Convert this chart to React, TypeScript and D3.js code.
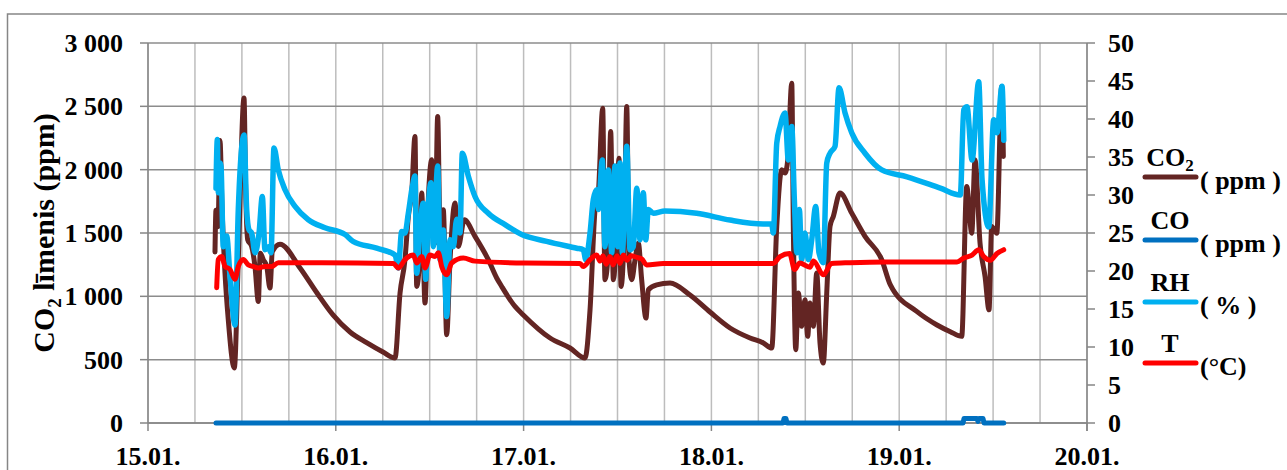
import React from "react";
import * as d3 from "d3";

// Time is measured in hours since 15.01. 00:00
const dayLabels = ["15.01.", "16.01.", "17.01.", "18.01.", "19.01.", "20.01."];
const co2Ticks = [0, 500, 1000, 1500, 2000, 2500, 3000];
const co2TickLabels = ["0", "500", "1 000", "1 500", "2 000", "2 500", "3 000"];
const rightTicks = [0, 5, 10, 15, 20, 25, 30, 35, 40, 45, 50];

// CO2 concentration, ppm (left axis)
const co2Series: [number, number][] = [
  [8.56, 1350], [8.69, 1680], [8.95, 1550], [9.2, 2230], [9.46, 1700], [9.84, 1183],
  [10.26, 815], [11.03, 434], [11.54, 1290], [12.27, 2565], [12.49, 1815], [12.74, 1447],
  [13.25, 1394], [13.67, 1236], [14.1, 960], [14.35, 1341], [14.74, 1289], [15.17, 1236],
  [15.59, 1065], [15.89, 1354], [16.87, 1412], [19.43, 1224], [21.6, 1026], [23.64, 853],
  [25.82, 718], [27.99, 632], [30.03, 560], [31.57, 513], [32.21, 1026], [32.84, 1289],
  [33.27, 1630], [33.7, 1815], [34.12, 2262], [34.34, 1078], [34.77, 1394], [34.98, 1815],
  [35.4, 947], [35.82, 1762], [36.26, 2078], [36.68, 1420], [37.02, 2420], [37.32, 1552],
  [37.74, 1683], [38.17, 697], [38.6, 1289], [39.23, 1736], [39.66, 1394], [40.42, 1604],
  [41.79, 1473], [43.49, 1289], [44.56, 1145], [45.2, 1078], [46.9, 920], [47.96, 853],
  [51.38, 671], [53.93, 592], [55.85, 513], [56.49, 894], [57.13, 1683], [57.55, 1815],
  [58.11, 2485], [58.4, 1131], [58.75, 1289], [59.13, 2301], [59.47, 1131], [59.9, 1552],
  [60.19, 2091], [60.45, 1078], [60.87, 1552], [61.18, 2499], [61.47, 1289], [61.82, 1131],
  [62.24, 1289], [62.66, 1420], [63.09, 1131], [63.64, 828], [63.94, 1052], [65.01, 1090],
  [66.71, 1105], [69.27, 1010], [71.82, 876], [74.38, 750], [76.94, 671], [78.64, 632],
  [79.71, 592], [80.35, 1552], [80.99, 1999], [81.41, 1973], [81.76, 2078], [82.27, 2683],
  [82.47, 1552], [82.78, 579], [83.11, 1026], [83.54, 763], [83.96, 973], [84.31, 684],
  [84.6, 947], [85.03, 763], [85.46, 1184], [85.88, 631], [86.3, 473], [86.74, 1026],
  [87.16, 1552], [87.58, 1631], [88.43, 1815], [89.93, 1657], [91.63, 1473], [93.77, 1289],
  [94.87, 1090], [98.28, 879], [100.83, 774], [102.53, 721], [103.99, 684], [104.63, 1867],
  [105.27, 1499], [105.69, 2078], [106.33, 1420], [106.97, 1157], [107.48, 894], [107.82, 1552],
  [108.47, 1499], [109.1, 2656], [109.31, 2104],
];

// CO concentration, ppm (right axis)
const coSeries: [number, number][] = [
  [8.69, 0], [81.15, 0], [81.28, 0.6], [81.53, 0.6], [81.66, 0], [104.16, 0],
  [104.28, 0.6], [105.95, 0.6], [106.07, 0.2], [106.2, 0.6], [106.71, 0.6], [106.84, 0],
  [109.36, 0],
];

// Relative humidity, % (right axis)
const rhSeries: [number, number][] = [
  [8.69, 30.9], [8.86, 37.3], [8.98, 30.3], [9.2, 34.2], [9.33, 33.8], [9.62, 23.2],
  [10.06, 24.6], [10.48, 19.3], [11.12, 12.9], [11.54, 28.1], [12.27, 37.9], [12.61, 28.1],
  [12.91, 25.4], [13.25, 25.0], [13.67, 22.4], [14.19, 25.0], [14.61, 29.8], [14.95, 22.8],
  [15.37, 23.2], [15.72, 22.4], [16.1, 36.2], [16.65, 33.3], [17.51, 30.7], [18.79, 28.5],
  [20.49, 26.75], [22.62, 25.7], [25.18, 24.8], [26.2, 23.9], [29.23, 23.0], [31.57, 22.1],
  [31.99, 20.4], [32.42, 25.2], [32.84, 25.0], [33.27, 27.6], [33.78, 31.1], [34.12, 32.5],
  [34.34, 19.7], [34.76, 25.9], [35.18, 28.9], [35.49, 18.9], [35.82, 28.5], [36.17, 31.6],
  [36.46, 23.2], [37.02, 33.8], [37.32, 21.5], [37.74, 25.4], [38.17, 14.0], [38.6, 24.1],
  [39.02, 23.2], [39.45, 26.8], [39.87, 25.0], [40.17, 35.5], [40.93, 32.5], [41.79, 29.8],
  [43.49, 27.6], [45.63, 26.1], [47.76, 24.8], [50.95, 23.9], [54.79, 23.0], [55.63, 22.8],
  [55.94, 21.5], [56.49, 25.0], [56.91, 29.4], [57.34, 30.7], [57.55, 28.1], [58.06, 34.6],
  [58.4, 23.2], [58.83, 33.3], [59.26, 22.4], [59.68, 33.8], [60.03, 23.2], [60.32, 34.2],
  [60.62, 22.4], [61.18, 36.4], [61.6, 22.8], [62.02, 23.2], [62.46, 30.9], [62.88, 24.1],
  [63.3, 30.3], [63.61, 24.1], [63.94, 28.1], [64.58, 27.6], [66.07, 27.9], [70.12, 27.6],
  [74.38, 26.7], [78.64, 26.2], [79.71, 26.2], [79.91, 25.0], [80.35, 36.8], [80.77, 39.0],
  [81.41, 40.8], [81.83, 34.6], [82.27, 39.0], [82.6, 29.4], [82.91, 22.4], [83.24, 28.1],
  [83.54, 21.5], [83.96, 25.0], [84.39, 21.5], [84.82, 24.1], [85.33, 28.5], [85.75, 22.4],
  [86.3, 21.1], [86.74, 34.2], [87.16, 35.5], [87.8, 36.4], [88.31, 44.1], [89.08, 40.8],
  [89.93, 38.2], [91.63, 35.5], [93.77, 33.3], [97.0, 32.4], [101.25, 30.9], [103.81, 30.0],
  [104.25, 41.2], [104.67, 41.6], [105.31, 34.6], [106.16, 44.9], [106.59, 32.0], [107.44, 25.8],
  [108.08, 39.9], [108.5, 38.2], [109.14, 44.3], [109.36, 37.2],
];

// Air temperature, °C (right axis)
const tSeries: [number, number][] = [
  [8.78, 17.8], [8.98, 21.5], [9.42, 21.9], [9.84, 20.6], [10.48, 20.2], [11.12, 18.9],
  [11.54, 20.6], [12.18, 21.5], [12.82, 20.8], [13.42, 20.6], [14.1, 20.4], [14.95, 20.6],
  [15.81, 20.6], [16.65, 21.1], [22.2, 21.1], [31.35, 21.0], [31.99, 20.4], [32.84, 21.5],
  [33.91, 22.1], [34.34, 21.05], [34.98, 21.9], [35.4, 20.4], [36.04, 22.1], [36.68, 21.9],
  [37.1, 22.4], [37.53, 20.6], [38.17, 19.5], [38.81, 21.05], [40.3, 21.7], [41.79, 21.3],
  [48.18, 21.05], [55.21, 21.0], [55.63, 20.6], [56.49, 21.5], [57.34, 22.1], [57.77, 21.3],
  [58.15, 22.0], [58.54, 20.9], [59.04, 21.9], [59.43, 20.8], [59.94, 22.0], [60.32, 21.0],
  [60.75, 22.1], [61.22, 21.4], [61.73, 22.0], [62.46, 21.8], [63.09, 21.6], [63.73, 20.8],
  [65.86, 21.0], [79.91, 21.0], [80.77, 21.9], [81.99, 22.3], [82.63, 20.2], [83.27, 21.05],
  [84.6, 20.5], [85.03, 21.3], [86.3, 19.5], [87.37, 21.0], [89.72, 21.1], [94.19, 21.2],
  [103.39, 21.2], [104.25, 21.7], [105.31, 22.1], [106.16, 22.8], [106.8, 21.9], [107.64, 21.4],
  [108.5, 22.3], [109.36, 22.8],
];

const COLORS = {
  co2: "#632523",
  co: "#0070C0",
  rh: "#00B0F0",
  t: "#FF0000",
  gridH: "#8c8c8c",
  gridV: "#bdbdbd",
  axis: "#868686",
};

const FONT = '"Liberation Serif", "Times New Roman", Tinos, "DejaVu Serif", serif';

export default function App() {
  const W = 1287;
  const H = 470;
  const plot = { left: 148, right: 1087, top: 43, bottom: 423 };

  const x = d3.scaleLinear().domain([0, 120]).range([plot.left, plot.right]);
  const yL = d3.scaleLinear().domain([0, 3000]).range([plot.bottom, plot.top]);
  const yR = d3.scaleLinear().domain([0, 50]).range([plot.bottom, plot.top]);

  const lineL = d3
    .line<[number, number]>()
    .x((d) => x(d[0]))
    .y((d) => yL(d[1]))
    .curve(d3.curveMonotoneX);
  const lineR = d3
    .line<[number, number]>()
    .x((d) => x(d[0]))
    .y((d) => yR(d[1]))
    .curve(d3.curveMonotoneX);
  const lineCO = d3
    .line<[number, number]>()
    .x((d) => x(d[0]))
    .y((d) => yR(d[1]));

  const sixHours = d3.range(0, 121, 6);
  const days = dayLabels.map((_, i) => i * 24);

  const legend = [
    { label: "CO", sub: "2", unit: "( ppm )", color: COLORS.co2, y: 177 },
    { label: "CO", sub: "", unit: "( ppm )", color: COLORS.co, y: 240 },
    { label: "RH", sub: "", unit: "( % )", color: COLORS.rh, y: 302 },
    { label: "T", sub: "", unit: "(°C)", color: COLORS.t, y: 363 },
  ];

  const seriesStyle = {
    fill: "none",
    strokeWidth: 5,
    strokeLinejoin: "round" as const,
    strokeLinecap: "round" as const,
  };

  const textStyle = { fontFamily: FONT, fontWeight: 700, whiteSpace: "pre" as const };

  return (
    <svg
      width={W}
      height={H}
      style={{ position: "absolute", left: 0, top: 0, display: "block", background: "#fff" }}
    >
      {/* chart frame */}
      <rect x={7.5} y={14} width={1300} height={500} fill="#fff" stroke={COLORS.axis} strokeWidth={1.5} />

      {/* vertical grid every 6 hours */}
      {sixHours.map((h) => (
        <line key={"gv" + h} x1={x(h)} x2={x(h)} y1={plot.top} y2={plot.bottom} stroke={COLORS.gridV} strokeWidth={1.5} />
      ))}
      {/* horizontal grid */}
      {co2Ticks.map((v) => (
        <line key={"gh" + v} x1={plot.left} x2={plot.right} y1={yL(v)} y2={yL(v)} stroke={COLORS.gridH} strokeWidth={1.5} />
      ))}

      {/* axes */}
      <line x1={plot.left} x2={plot.left} y1={plot.top} y2={plot.bottom} stroke={COLORS.axis} strokeWidth={1.5} />
      <line x1={plot.right} x2={plot.right} y1={plot.top} y2={plot.bottom + 8} stroke={COLORS.axis} strokeWidth={1.5} />
      <line x1={plot.left} x2={plot.right} y1={plot.bottom} y2={plot.bottom} stroke={COLORS.axis} strokeWidth={1.5} />
      {co2Ticks.map((v) => (
        <line key={"tl" + v} x1={plot.left - 8} x2={plot.left} y1={yL(v)} y2={yL(v)} stroke={COLORS.axis} strokeWidth={1.5} />
      ))}
      {rightTicks.map((v) => (
        <line key={"tr" + v} x1={plot.right} x2={plot.right + 8} y1={yR(v)} y2={yR(v)} stroke={COLORS.axis} strokeWidth={1.5} />
      ))}
      {days.map((h) => (
        <line key={"tb" + h} x1={x(h)} x2={x(h)} y1={plot.bottom} y2={plot.bottom + 8} stroke={COLORS.axis} strokeWidth={1.5} />
      ))}

      {/* tick labels */}
      {co2Ticks.map((v, i) => (
        <text key={"ll" + v} x={123} y={yL(v)} dy="0.35em" textAnchor="end" fontSize={26} style={textStyle}>
          {co2TickLabels[i]}
        </text>
      ))}
      {rightTicks.map((v) => (
        <text key={"rl" + v} x={1108} y={yR(v)} dy="0.35em" textAnchor="start" fontSize={26} style={textStyle}>
          {v}
        </text>
      ))}
      {days.map((h, i) => (
        <text key={"bl" + h} x={x(h)} y={465} textAnchor="middle" fontSize={26} style={textStyle}>
          {dayLabels[i]}
        </text>
      ))}

      {/* axis title */}
      <text
        transform={`translate(54,${(plot.top + plot.bottom) / 2}) rotate(-90)`}
        textAnchor="middle"
        fontSize={30}
        style={textStyle}
      >
        <tspan>CO</tspan>
        <tspan fontSize={19} dy={7}>2</tspan>
        <tspan dy={-7}>{" līmenis (ppm)"}</tspan>
      </text>

      {/* series */}
      <path d={lineL(co2Series) ?? ""} stroke={COLORS.co2} {...seriesStyle} />
      <path d={lineCO(coSeries) ?? ""} stroke={COLORS.co} {...seriesStyle} />
      <path d={lineR(rhSeries) ?? ""} stroke={COLORS.rh} {...seriesStyle} strokeWidth={5.5} />
      <path d={lineR(tSeries) ?? ""} stroke={COLORS.t} {...seriesStyle} />

      {/* legend */}
      {legend.map((item) => (
        <g key={item.label + item.unit + item.color}>
          <line x1={1145} x2={1196} y1={item.y} y2={item.y} stroke={item.color} strokeWidth={5} strokeLinecap="round" />
          <text x={1170} y={item.y - 11} textAnchor="middle" fontSize={26} style={textStyle}>
            {item.label}
            {item.sub ? (
              <tspan fontSize={17} dy={5}>
                {item.sub}
              </tspan>
            ) : null}
          </text>
          <text x={1200} y={item.y + 12} textAnchor="start" fontSize={26} style={textStyle}>
            {item.unit}
          </text>
        </g>
      ))}
    </svg>
  );
}
